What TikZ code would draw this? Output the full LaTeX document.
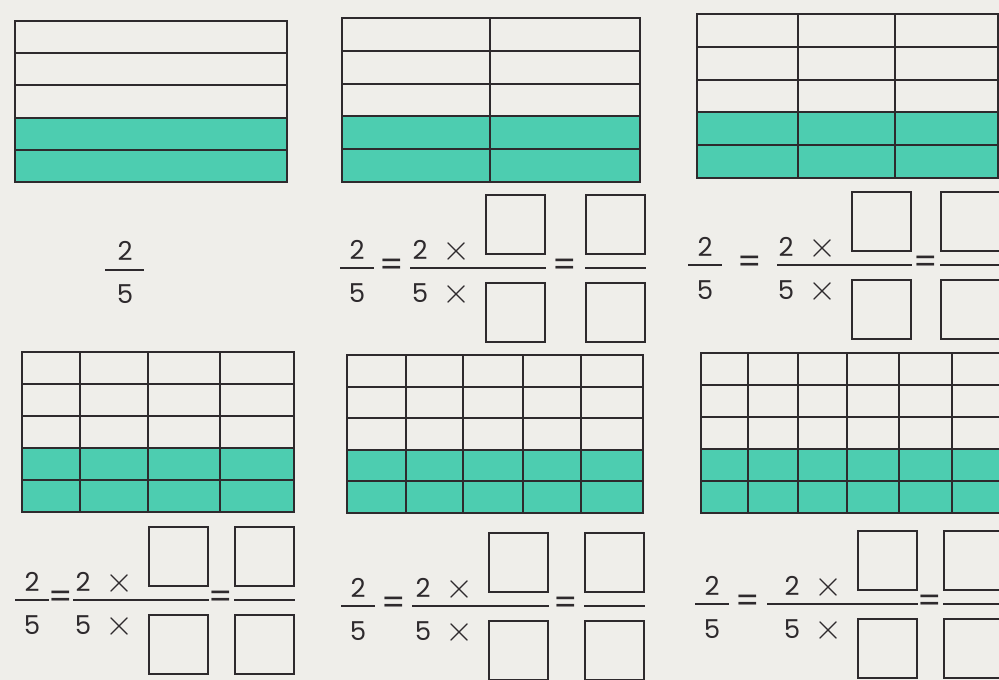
\documentclass[tikz,border=0pt]{standalone}
\usepackage{fontspec}
\setmainfont{Poppins}
\usetikzlibrary{positioning}
\definecolor{paper}{HTML}{EFEEEA}
\definecolor{ink}{HTML}{2E2A2D}
\definecolor{tealfill}{HTML}{4DCDB0}
\newcommand{\bigtimes}{\scalebox{1.45}{$\times$}}

\newcommand{\stripgrid}[4]{%
  \fill[tealband] (#1,{#2+0.6*(#4-#2)}) rectangle (#3,#4);
  \foreach \r in {0.2,0.4,0.6,0.8}
    \draw[gridline] (#1,{#2+\r*(#4-#2)}) -- (#3,{#2+\r*(#4-#2)});
  \draw[gridline] (#1,#2) rectangle (#3,#4);}

\newcommand{\fraceq}[6]{%
  \node[digit] (#1n) at (#2,{#6-18}) {2};
  \node[digit] (#1d) at (#2,{#6+25}) {5};
  \coordinate (#1l) at ({#2-17},#6);
  \coordinate (#1r) at ({#2+17},#6);
  \draw[bar] (#1l) -- (#1r);
  \node[eqsign] (#1e) at ({(#2+17+#3)/2},#6) {=};
  \node[digit] (#1tn) at ({#4-65},{#6-18}) {2};
  \node[timesign] (#1xn) at ({#4-28},{#6-17}) {\bigtimes};
  \node[digit] (#1td) at ({#4-65},{#6+25}) {5};
  \node[timesign] (#1xd) at ({#4-28},{#6+26}) {\bigtimes};
  \node[answerbox,anchor=south west] (#1bn) at (#4,{#6-13}) {};
  \node[answerbox,anchor=north west] (#1bd) at (#4,{#6+14}) {};
  \coordinate (#1bl) at (#3,#6);
  \draw[bar] (#1bl) -- (#1bn.south east |- #1bl);
  \node[eqsign] (#1f) at ({(#4+60+#5)/2},#6) {=};
  \node[answerbox,anchor=south west] (#1rn) at (#5,{#6-13}) {};
  \node[answerbox,anchor=north west] (#1rd) at (#5,{#6+14}) {};
  \draw[bar] (#1rn.south west |- #1bl) -- (#1rn.south east |- #1bl);}

\begin{document}
\begin{tikzpicture}[x=1pt,y=-1pt,
    gridline/.style={draw=ink,line width=2pt},
    tealband/.style={fill=tealfill},
    digit/.style={inner sep=0pt,font=\fontsize{26}{30}\selectfont,text=ink},
    timesign/.style={inner sep=0pt,font=\fontsize{24}{28}\selectfont,text=ink},
    eqsign/.style={inner sep=0pt,font=\fontsize{34}{38}\selectfont,text=ink},
    answerbox/.style={draw=ink,line width=1.7pt,minimum width=59pt,minimum height=59pt,inner sep=0pt},
    bar/.style={draw=ink,line width=2pt}
]
\useasboundingbox (0,0) rectangle (999,680);
\clip (0,0) rectangle (999,680);
\fill[paper] (0,0) rectangle (999,680);

\stripgrid{15}{21}{287}{182}
\stripgrid{342}{18}{640}{182}
\foreach \c in {490} \draw[gridline] (\c,18) -- (\c,182);
\stripgrid{697}{14}{998}{178}
\foreach \c in {798,895} \draw[gridline] (\c,14) -- (\c,178);
\stripgrid{22}{352}{294}{512}
\foreach \c in {80,148,220} \draw[gridline] (\c,352) -- (\c,512);
\stripgrid{347}{355}{643}{513}
\foreach \c in {406,463,523,581} \draw[gridline] (\c,355) -- (\c,513);
\stripgrid{701}{353}{1003}{513}
\foreach \c in {748,798,847,899,952} \draw[gridline] (\c,353) -- (\c,513);

\node[digit] (solon) at (125,251) {2};
\node[digit] (solod) at (125,294) {5};
\coordinate (sololeft) at (105,270);
\coordinate (soloright) at (144,270);
\draw[bar] (sololeft) -- (soloright);

\fraceq{halves}{357}{410}{485}{585}{268}
\fraceq{thirds}{705}{777}{851}{940}{265}
\fraceq{fourths}{32}{73}{148}{234}{600}
\fraceq{fifths}{358}{412}{488}{584}{606}
\fraceq{sixths}{712}{767}{857}{943}{604}
\end{tikzpicture}
\end{document}
